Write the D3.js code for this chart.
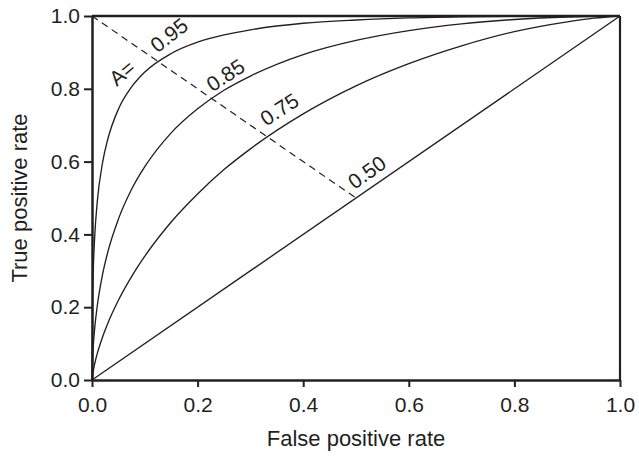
<!DOCTYPE html>
<html>
<head>
<meta charset="utf-8">
<script src="https://cdn.jsdelivr.net/npm/d3@7"></script>
<style>
  html, body { margin: 0; padding: 0; background: #fff; }
  svg { display: block; }
  text { font-family: "Liberation Sans", Arial, sans-serif; fill: #231f20; }
</style>
</head>
<body>
<svg id="chart" width="639" height="462"></svg>
<script>
// ---- data ----
const fpr = [0, 0.001, 0.0025, 0.005, 0.01, 0.02, 0.03, 0.05, 0.075, 0.1, 0.15, 0.2, 0.25, 0.3, 0.4, 0.5, 0.6, 0.7, 0.8, 0.9, 0.95, 1];
const tpr095 = [0, 0.215, 0.306, 0.391, 0.490, 0.597, 0.662, 0.744, 0.805, 0.846, 0.897, 0.928, 0.948, 0.962, 0.980, 0.989, 0.9947, 0.9976, 0.9992, 0.9998, 1, 1];
const tpr085 = [0, 0.056, 0.096, 0.141, 0.204, 0.290, 0.352, 0.442, 0.524, 0.586, 0.679, 0.745, 0.796, 0.835, 0.894, 0.933, 0.960, 0.9785, 0.9904, 0.9973, 0.9992, 1];
const tpr075 = [0, 0.013, 0.026, 0.044, 0.073, 0.118, 0.156, 0.219, 0.284, 0.340, 0.434, 0.511, 0.578, 0.635, 0.731, 0.808, 0.869, 0.918, 0.957, 0.984, 0.994, 1];
const fpr050 = [0, 1];
const tpr050 = [0, 1];
const chanceLineFpr = [0, 0.5];
const chanceLineTpr = [1, 0.5];
const curveLabels = ["A=", "0.95", "0.85", "0.75", "0.50"];
const labelFpr = [0.047, 0.124, 0.228, 0.330, 0.497];
const labelTpr = [0.805, 0.897, 0.790, 0.696, 0.522];
const labelAngle = [-40, -38, -33, -33, -35];
const xTicks = [0, 0.2, 0.4, 0.6, 0.8, 1.0];
const yTicks = [0, 0.2, 0.4, 0.6, 0.8, 1.0];
const xTitle = "False positive rate";
const yTitle = "True positive rate";

// ---- layout ----
const W = 639, H = 462;
const m = { left: 92, right: 19, top: 16, bottom: 82 };
const iw = W - m.left - m.right, ih = H - m.top - m.bottom;
const ink = "#231f20";

const svg = d3.select("#chart");
const g = svg.append("g").attr("transform", `translate(${m.left},${m.top})`);

const x = d3.scaleLinear().domain([0, 1]).range([0, iw]);
const y = d3.scaleLinear().domain([0, 1]).range([ih, 0]);

const line = d3.line().x(d => x(d[0])).y(d => y(d[1])).curve(d3.curveMonotoneX);

const series = [tpr095, tpr085, tpr075].map(t => fpr.map((f, i) => [f, t[i]]));
series.push(fpr050.map((f, i) => [f, tpr050[i]]));

g.selectAll("path.roc").data(series).enter().append("path")
  .attr("class", "roc")
  .attr("d", line)
  .attr("fill", "none")
  .attr("stroke", ink)
  .attr("stroke-width", 1.35);

// dashed chance diagonal
g.append("path")
  .datum(chanceLineFpr.map((f, i) => [f, chanceLineTpr[i]]))
  .attr("d", d3.line().x(d => x(d[0])).y(d => y(d[1])))
  .attr("fill", "none")
  .attr("stroke", ink)
  .attr("stroke-width", 1.2)
  .attr("stroke-dasharray", "7,5");

// frame (top and right)
g.append("line").attr("x1", 0).attr("x2", iw).attr("y1", 0).attr("y2", 0)
  .attr("stroke", ink).attr("stroke-width", 2.5);
g.append("line").attr("x1", iw).attr("x2", iw).attr("y1", 0).attr("y2", ih)
  .attr("stroke", ink).attr("stroke-width", 2.2);

// axes
const xAxis = g.append("g").attr("transform", `translate(0,${ih})`)
  .call(d3.axisBottom(x).tickValues(xTicks).tickFormat(d3.format(".1f")).tickSize(7).tickSizeOuter(0).tickPadding(10));
const yAxis = g.append("g")
  .call(d3.axisLeft(y).tickValues(yTicks).tickFormat(d3.format(".1f")).tickSize(8).tickSizeOuter(0).tickPadding(4));
[xAxis, yAxis].forEach(a => {
  a.select(".domain").attr("stroke", ink).attr("stroke-width", 2.5);
  a.selectAll(".tick line").attr("stroke", ink).attr("stroke-width", 2);
  a.selectAll(".tick text").attr("fill", ink).style("font-size", "21px")
    .style("font-family", '"Liberation Sans", Arial, sans-serif');
});

// curve labels
g.selectAll("text.clab").data(curveLabels).enter().append("text")
  .attr("class", "clab")
  .attr("transform", (d, i) => `translate(${x(labelFpr[i])},${y(labelTpr[i])}) rotate(${labelAngle[i]})`)
  .style("font-size", "21px")
  .text(d => d);

// axis titles
svg.append("text")
  .attr("x", m.left + iw / 2).attr("y", 446)
  .attr("text-anchor", "middle")
  .style("font-size", "22px")
  .text(xTitle);
svg.append("text")
  .attr("transform", `translate(27,${m.top + ih / 2}) rotate(-90)`)
  .attr("text-anchor", "middle")
  .style("font-size", "22px")
  .text(yTitle);
</script>
</body>
</html>
